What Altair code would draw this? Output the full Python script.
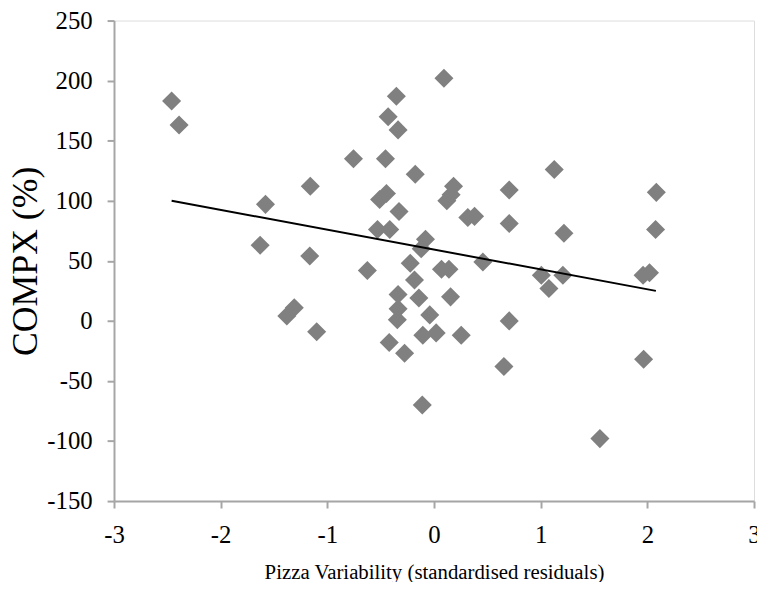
import altair as alt
import pandas as pd

pizza_x = [-2.46, -2.39, -1.63, -1.58, -1.38, -1.31, -1.16, -1.165, -1.10,
           -0.755, -0.625, -0.53, -0.51, -0.455, -0.446, -0.43, -0.415, -0.42,
           -0.353, -0.337, -0.328, -0.337, -0.337, -0.344, -0.276, -0.223,
           -0.183, -0.176, -0.142, -0.12, -0.08, -0.11, -0.105, -0.04, 0.02,
           0.07, 0.093, 0.12, 0.14, 0.16, 0.183, 0.155, 0.255, 0.317, 0.38,
           0.458, 0.655, 0.705, 0.705, 0.705, 1.006, 1.077, 1.127, 1.208,
           1.218, 1.555, 1.96, 1.965, 2.02, 2.077, 2.084]
compx_y = [183, 163, 63, 97, 4, 11, 112, 54, -9,
           135, 42, 76, 101, 135, 106, 170, 76, -18,
           187, 159, 91, 22, 10, 1, -27, 48,
           34, 122, 19, 60, 68, -70, -12, 5, -10,
           43, 202, 100, 43, 105, 112, 20, -12, 86, 87,
           49, -38, 109, 81, 0, 38, 27, 126, 38,
           73, -98, 38, -32, 40, 76, 107]
trend_x = [-2.46, 2.08]
trend_y = [100, 25]

x_ticks = [-3, -2, -1, 0, 1, 2, 3]
y_ticks = [-150, -100, -50, 0, 50, 100, 150, 200, 250]

pts = pd.DataFrame({"x": pizza_x, "y": compx_y})
trend = pd.DataFrame({"x": trend_x, "y": trend_y})

FONT = "Liberation Serif"
xs = alt.Scale(domain=[-3, 3], nice=False, zero=False)
ys = alt.Scale(domain=[-150, 250], nice=False, zero=False)

axis_common = dict(grid=False, domainColor="#a6a6a6", domainWidth=2,
                   tickColor="#a6a6a6", tickWidth=2, tickSize=7,
                   labelFont=FONT, labelFontSize=25, labelColor="#000000",
                   labelFlush=False, labelOverlap=False, labelBound=False,
                   labelExpr="'' + datum.value", labelPadding=15,
                   titleFont=FONT, titleColor="#000000", titleFontWeight="normal")

x_axis = alt.Axis(values=x_ticks, title="Pizza Variability (standardised residuals)",
                  titleFontSize=21, titlePadding=14, **axis_common)
y_axis = alt.Axis(values=y_ticks, title="COMPX (%)", titleFontSize=36,
                  titlePadding=2, **axis_common)

points = alt.Chart(pts).mark_point(
    shape="diamond", filled=True, size=370, color="#808080", opacity=1
).encode(
    x=alt.X("x:Q", scale=xs, axis=x_axis),
    y=alt.Y("y:Q", scale=ys, axis=y_axis),
)

line = alt.Chart(trend).mark_line(color="#000000", strokeWidth=2).encode(
    x=alt.X("x:Q", scale=xs),
    y=alt.Y("y:Q", scale=ys),
)

chart = alt.layer(points, line).properties(
    width=646, height=485,
    autosize=alt.AutoSizeParams(type="none"),
    padding={"left": 107, "top": 10, "right": 3, "bottom": 79},
).configure_view(stroke=None).configure_axis(
    labelFont=FONT, titleFont=FONT
).configure(font=FONT)

chart.save("out.html", embed_options={"renderer": "svg", "actions": False})
